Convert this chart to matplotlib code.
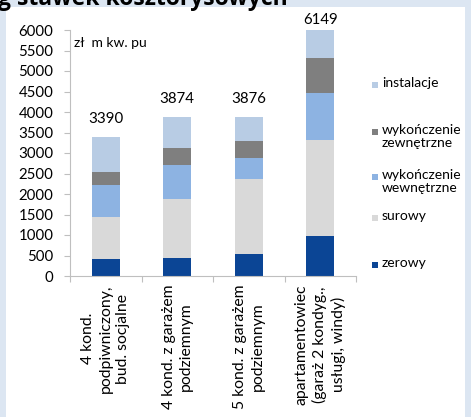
import matplotlib
matplotlib.use("Agg")
import matplotlib.pyplot as plt
from matplotlib.patches import Rectangle
import numpy as np

plt.rcParams['font.family'] = ['Lato', 'DejaVu Sans']

categories = [
    "4 kond.\npodpiwniczony,\nbud. socjalne",
    "4 kond. z garażem\npodziemnym",
    "5 kond. z garażem\npodziemnym",
    "apartamentowiec\n(garaż 2 kondyg.,\nusługi, windy)",
]
series_names = ["zerowy", "surowy", "wykończenie\nwewnętrzne",
                "wykończenie\nzewnętrzne", "instalacje"]
zerowy = [420, 450, 530, 985]
surowy = [1010, 1420, 1830, 2330]
wewnetrzne = [790, 845, 510, 1140]
zewnetrzne = [310, 415, 415, 870]
instalacje = [860, 744, 591, 824]
yticks = [0, 500, 1000, 1500, 2000, 2500, 3000, 3500, 4000, 4500, 5000, 5500, 6000]
unit_label = "zł  m kw. pu"
title_text = "g stawek kosztorysowych"

series = [zerowy, surowy, wewnetrzne, zewnetrzne, instalacje]
colors = ["#0b4595", "#d9d9d9", "#8db3e2", "#7f7f7f", "#b8cce4"]

W, H = 471, 417
fig = plt.figure(figsize=(W / 100, H / 100), dpi=100)
fig.patch.set_facecolor("#dce6f2")
panel = Rectangle((6 / W, 0), 459 / W, (H - 7) / H,
                  transform=fig.transFigure, facecolor="white",
                  edgecolor="none", zorder=-10)
fig.patches.append(panel)
fig.text(-2 / W, 1 - 4.7 / H, title_text, fontsize=16.5, fontweight="bold",
         family=["Open Sans", "DejaVu Sans"],
         ha="left", va="baseline", color="black")

ax = fig.add_axes([70 / W, (H - 276) / H, 286 / W, 246 / H])
ax.set_facecolor("none")
ax.set_zorder(5)

x = np.arange(len(categories))
bottom = np.zeros(len(categories))
for vals, col in zip(series, colors):
    ax.bar(x, vals, width=0.39, bottom=bottom, color=col, zorder=2)
    bottom += np.array(vals)

totals = bottom
ymax = 6000
ax.set_ylim(0, ymax)
ax.set_xlim(-0.5, len(categories) - 0.5)
for xi, t in zip(x, totals):
    off = 18 if t <= ymax else 10
    ax.annotate(f"{int(round(t))}", (xi, min(t, ymax)), xytext=(0, off),
                textcoords="offset pixels", ha="center", va="center",
                fontsize=10.8, annotation_clip=False)

ax.set_yticks(yticks)
ax.set_yticklabels([str(v) for v in yticks])
ax.tick_params(axis="y", direction="out", length=4, color="#bfbfbf",
               labelsize=10.8, pad=8)
ax.set_xticks(np.arange(-0.5, len(categories), 1.0))
ax.set_xticklabels([])
ax.tick_params(axis="x", which="major", direction="out", length=4, color="#bfbfbf")
ax.set_xticks(x, minor=True)
ax.set_xticklabels(categories, minor=True, rotation=90, ha="center", va="top",
                   multialignment="center", fontsize=11.3, linespacing=1.3)
ax.tick_params(axis="x", which="minor", length=0, pad=6)

for s in ["top", "right"]:
    ax.spines[s].set_visible(False)
for s in ["left", "bottom"]:
    ax.spines[s].set_color("#bfbfbf")
    ax.spines[s].set_linewidth(0.8)

ax.text(4 / 286, (276 - 43) / 246, unit_label, transform=ax.transAxes,
        fontsize=10, ha="left", va="center")

# legend (top to bottom: reversed stacking order)
leg_y = [85, 131.7, 176.7, 218.3, 265]
for name, col, yp in zip(series_names[::-1], colors[::-1], leg_y):
    fig.patches.append(Rectangle((372 / W, 1 - (yp + 3) / H), 6 / W, 6 / H,
                                 transform=fig.transFigure, facecolor=col,
                                 edgecolor="none"))
    fig.text(382 / W, 1 - (yp - 8) / H, name, fontsize=10, ha="left",
             va="top", linespacing=1.1)

fig.savefig("out.png", dpi=100)
